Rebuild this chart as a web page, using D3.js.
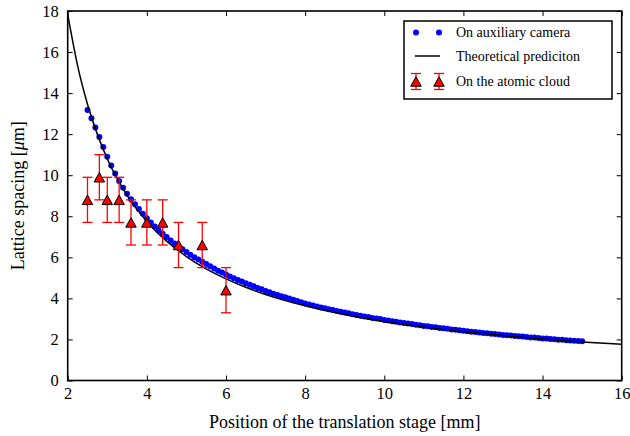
<!DOCTYPE html>
<html>
<head>
<meta charset="utf-8">
<script src="https://cdn.jsdelivr.net/npm/d3@7"></script>
<style>
  body { margin: 0; background: #fff; }
  svg text { font-family: 'Liberation Serif', serif; fill: #000; }
</style>
</head>
<body>
<svg id="chart"></svg>
<script>
// stage positions [mm] of the auxiliary camera points
var camX = [2.5,2.6,2.7,2.8,2.9,3.0,3.1,3.2,3.3,3.4,3.5,3.6,3.7,3.8,3.9,4.0,4.1,4.2,4.3,4.4,
            4.5,4.6,4.7,4.8,4.9,5.0,5.1,5.2,5.3,5.4,5.5,5.6,5.7,5.8,5.9,6.0,6.1,6.2,6.3,6.4,
            6.5,6.6,6.7,6.8,6.9,7.0,7.1,7.2,7.3,7.4,7.5,7.6,7.7,7.8,7.9,8.0,8.1,8.2,8.3,8.4,
            8.5,8.6,8.7,8.8,8.9,9.0,9.1,9.2,9.3,9.4,9.5,9.6,9.7,9.8,9.9,10.0,10.1,10.2,10.3,10.4,
            10.5,10.6,10.7,10.8,10.9,11.0,11.1,11.2,11.3,11.4,11.5,11.6,11.7,11.8,11.9,12.0,12.1,12.2,12.3,12.4,
            12.5,12.6,12.7,12.8,12.9,13.0,13.1,13.2,13.3,13.4,13.5,13.6,13.7,13.8,13.9,14.0,14.1,14.2,14.3,14.4,
            14.5,14.6,14.7,14.8,14.9,15.0];
// lattice spacing [um] seen on the auxiliary camera
var camY = [13.18,12.77,12.33,11.86,11.37,10.90,10.47,10.08,9.72,9.39,9.10,8.83,8.59,8.35,8.12,7.91,7.70,7.50,7.31,7.15,
            6.99,6.82,6.67,6.53,6.39,6.26,6.13,6.01,5.89,5.78,5.67,5.56,5.45,5.35,5.26,5.16,5.07,4.98,4.90,4.82,
            4.74,4.66,4.59,4.51,4.44,4.36,4.30,4.23,4.17,4.11,4.05,3.99,3.93,3.87,3.81,3.75,3.70,3.65,3.61,3.56,
            3.52,3.47,3.43,3.39,3.35,3.31,3.27,3.23,3.19,3.16,3.12,3.09,3.05,3.02,2.99,2.95,2.92,2.89,2.86,2.83,
            2.80,2.78,2.75,2.72,2.69,2.66,2.64,2.61,2.59,2.56,2.54,2.52,2.49,2.47,2.45,2.42,2.40,2.38,2.36,2.34,
            2.32,2.30,2.28,2.26,2.24,2.22,2.20,2.19,2.17,2.15,2.14,2.12,2.10,2.09,2.07,2.05,2.04,2.02,2.01,1.99,
            1.98,1.96,1.95,1.94,1.92,1.91];

// theoretical prediction
var theoryX = [2,2.25,2.5,2.75,3,3.5,4,4.5,5,5.5,6,6.5,7,7.5,8,9,10,11,12,13,14,15,16];
var theoryY = [17.84,15.34,13.46,11.99,10.80,9.02,7.75,6.79,6.04,5.44,4.95,4.54,4.19,3.89,3.64,3.21,2.87,2.60,2.38,2.19,2.02,1.88,1.76];

// measurements on the atomic cloud
var cloudX = [2.5,2.8,3.0,3.3,3.6,4.0,4.4,4.8,5.4,6.0];
var cloudY = [8.8,9.9,8.8,8.8,7.7,7.7,7.7,6.6,6.6,4.4];
var cloudErr = [1.1,1.1,1.1,1.1,1.1,1.1,1.1,1.1,1.1,1.1];

var xTicks = [2,4,6,8,10,12,14,16];
var yTicks = [0,2,4,6,8,10,12,14,16,18];

var legendLabels = ['On auxiliary camera', 'Theoretical prediciton', 'On the atomic cloud'];

var width = 630;
var height = 436;
var plot = {left: 67.7, right: 621.7, top: 11, bottom: 380.5};
var serif = "'Liberation Serif', serif";

var svg = d3.select('#chart')
  .attr('width', width)
  .attr('height', height);

var xScale = d3.scaleLinear().domain([2, 16]).range([plot.left, plot.right]);
var yScale = d3.scaleLinear().domain([0, 18]).range([plot.bottom, plot.top]);

function triangle(w, h){
  return 'M0,' + (-h/2) + 'L' + (w/2) + ',' + (h/2) + 'L' + (-w/2) + ',' + (h/2) + 'Z';
}

// axes, ticks pointing inwards on all four sides
svg.append('g')
  .attr('transform', `translate(0, ${plot.bottom})`)
  .call(d3.axisBottom(xScale).tickValues(xTicks).tickSizeInner(-5).tickSizeOuter(0).tickPadding(7))
  .call(g => g.selectAll('text').style('font-size', '16.5px'));

svg.append('g')
  .attr('transform', `translate(0, ${plot.top})`)
  .call(d3.axisTop(xScale).tickValues(xTicks).tickSizeInner(-5).tickSizeOuter(0).tickFormat(''));

svg.append('g')
  .attr('transform', `translate(${plot.left}, 0)`)
  .call(d3.axisLeft(yScale).tickValues(yTicks).tickSizeInner(-5).tickSizeOuter(0).tickPadding(9))
  .call(g => g.selectAll('text').style('font-size', '16.5px'));

svg.append('g')
  .attr('transform', `translate(${plot.right}, 0)`)
  .call(d3.axisRight(yScale).tickValues(yTicks).tickSizeInner(-5).tickSizeOuter(0).tickFormat(''));

svg.selectAll('g').attr('font-family', serif);
svg.selectAll('.domain').remove();
svg.selectAll('.tick line').attr('stroke', '#000');

// camera points
svg.append('g')
  .selectAll('circle')
  .data(camX)
  .enter().append('circle')
    .attr('cx', d => xScale(d))
    .attr('cy', (d, i) => yScale(camY[i]))
    .attr('r', 3)
    .attr('fill', '#0000ff');

// theory curve
svg.append('path')
  .datum(theoryX)
  .attr('fill', 'none')
  .attr('stroke', '#000')
  .attr('stroke-width', 1.5)
  .attr('d', d3.line()
    .x(d => xScale(d))
    .y((d, i) => yScale(theoryY[i]))
    .curve(d3.curveMonotoneX));

// error bars + triangles
var cloud = svg.append('g');
cloudX.forEach(function(cx, i){
  var px = xScale(cx);
  var y0 = yScale(cloudY[i] - cloudErr[i]);
  var y1 = yScale(cloudY[i] + cloudErr[i]);
  cloud.append('line').attr('x1', px).attr('x2', px).attr('y1', y0).attr('y2', y1)
    .attr('stroke', '#ff0000').attr('stroke-width', 1.3);
  [y0, y1].forEach(function(yy){
    cloud.append('line').attr('x1', px - 5).attr('x2', px + 5).attr('y1', yy).attr('y2', yy)
      .attr('stroke', '#ff0000').attr('stroke-width', 1.3);
  });
  cloud.append('path')
    .attr('d', triangle(10.5, 9.5))
    .attr('transform', `translate(${px}, ${yScale(cloudY[i])})`)
    .attr('fill', '#ff0000')
    .attr('stroke', '#000')
    .attr('stroke-width', 1);
});

// frame
svg.append('rect')
  .attr('x', plot.left).attr('y', plot.top)
  .attr('width', plot.right - plot.left).attr('height', plot.bottom - plot.top)
  .attr('fill', 'none').attr('stroke', '#000').attr('stroke-width', 1.6);

// axis labels
svg.append('text')
  .attr('x', (plot.left + plot.right) / 2)
  .attr('y', 428)
  .attr('font-family', serif)
  .style('text-anchor', 'middle')
  .style('font-size', '18px')
  .text('Position of the translation stage [mm]');

var yLabel = svg.append('text')
  .attr('transform', `translate(24, ${(plot.top + plot.bottom) / 2}) rotate(-90)`)
  .attr('font-family', serif)
  .style('text-anchor', 'middle')
  .style('font-size', '18px');
yLabel.append('tspan').text('Lattice spacing [');
yLabel.append('tspan').style('font-style', 'italic').text('μ');
yLabel.append('tspan').text('m]');

// legend
var legend = svg.append('g').attr('font-family', serif);
legend.append('rect')
  .attr('x', 404).attr('y', 21).attr('width', 208).attr('height', 78)
  .attr('fill', '#fff').attr('stroke', '#000').attr('stroke-width', 1.5);

var rowY = [32.5, 56, 81.5];
var markX = [416, 439];

markX.forEach(function(mx){
  legend.append('circle').attr('cx', mx).attr('cy', rowY[0]).attr('r', 3).attr('fill', '#0000ff');
});
legend.append('line').attr('x1', 415).attr('x2', 440).attr('y1', rowY[1]).attr('y2', rowY[1])
  .attr('stroke', '#000').attr('stroke-width', 1.5);
markX.forEach(function(mx){
  var y0 = rowY[2] + 8, y1 = rowY[2] - 8;
  legend.append('line').attr('x1', mx).attr('x2', mx).attr('y1', y0).attr('y2', y1)
    .attr('stroke', '#ff0000').attr('stroke-width', 1.3);
  [y0, y1].forEach(function(yy){
    legend.append('line').attr('x1', mx - 5).attr('x2', mx + 5).attr('y1', yy).attr('y2', yy)
      .attr('stroke', '#ff0000').attr('stroke-width', 1.3);
  });
  legend.append('path').attr('d', triangle(10.5, 9.5))
    .attr('transform', `translate(${mx}, ${rowY[2]})`)
    .attr('fill', '#ff0000').attr('stroke', '#000').attr('stroke-width', 1);
});

legendLabels.forEach(function(label, i){
  legend.append('text')
    .attr('x', 456)
    .attr('y', rowY[i])
    .attr('dy', '0.35em')
    .attr('font-family', serif)
    .style('font-size', '14px')
    .text(label);
});
</script>
</body>
</html>
